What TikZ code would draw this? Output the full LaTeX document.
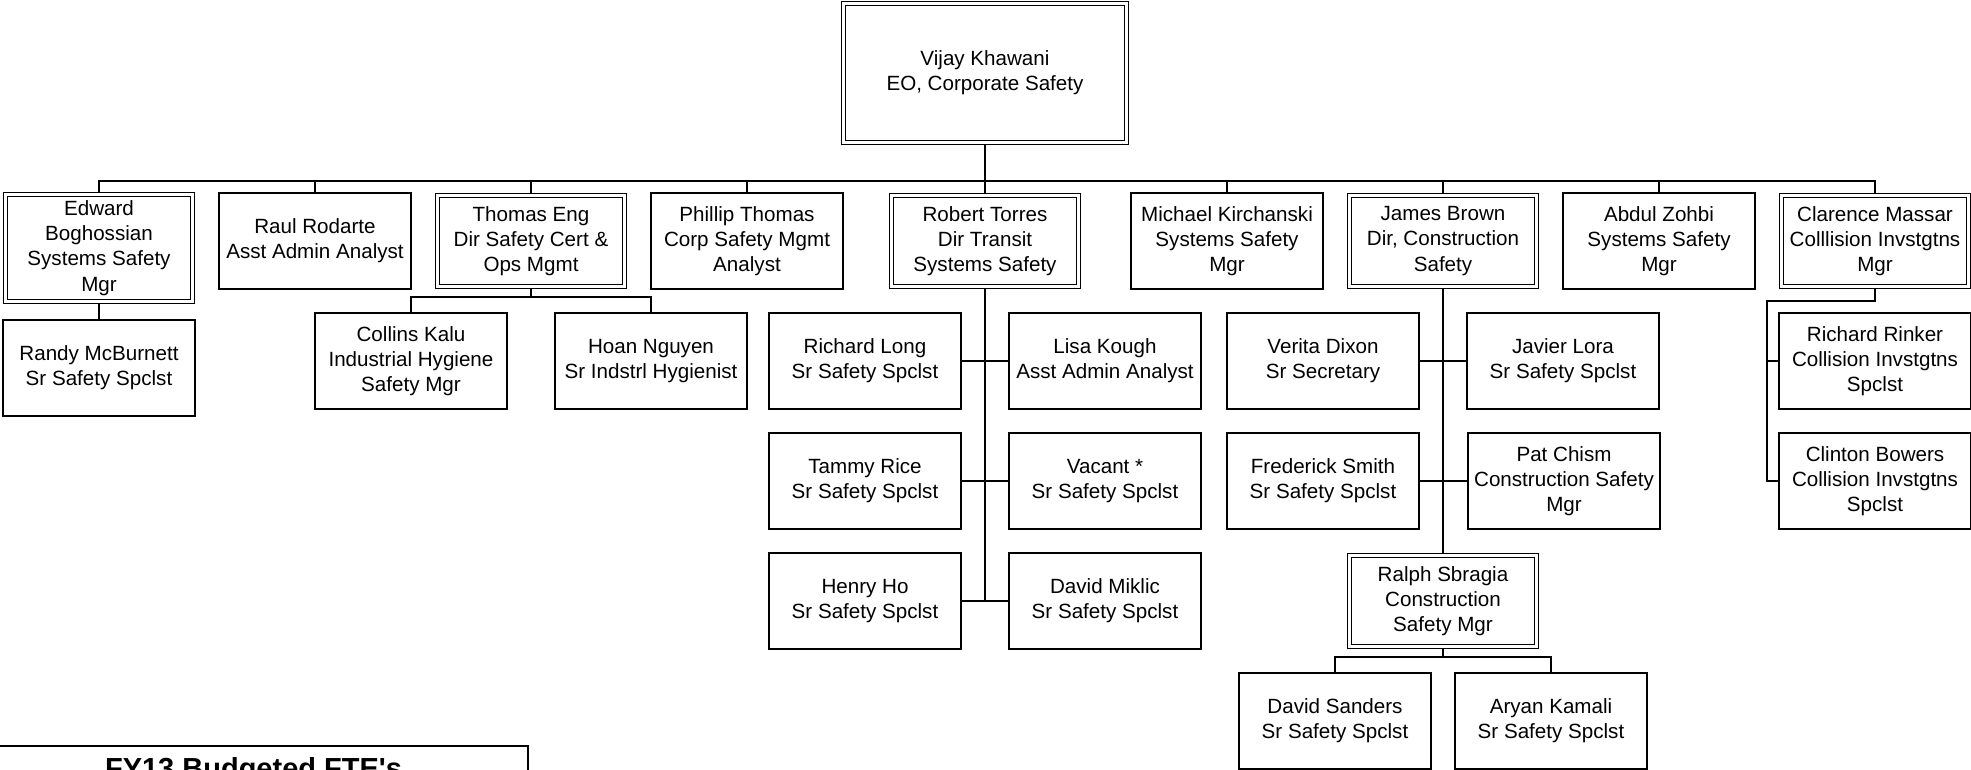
\documentclass[tikz,border=0pt]{standalone}
\usepackage{fontspec}
\setmainfont{Liberation Sans}
\usetikzlibrary{backgrounds}
\newcommand{\bodyfont}{\fontsize{20.6pt}{25.3pt}\selectfont}
\tikzset{
  pbox/.style={draw, line width=1.5pt, minimum width=192pt, minimum height=96pt,
    inner sep=0pt, outer sep=0pt, align=center, font=\bodyfont},
  dbox/.style={pbox, double, double distance=2.4pt, line width=1.3pt,
    minimum width=187pt, minimum height=91pt},
  conn/.style={draw, line width=2pt},
  ftebox/.style={draw, line width=2.3pt, inner sep=0pt, outer sep=0pt,
    minimum width=549pt, text height=32pt, text depth=10pt,
    font=\fontsize{29pt}{34pt}\selectfont\bfseries, anchor=north}
}
\begin{document}
\begin{tikzpicture}[x=1pt,y=-1pt]
\clip (0,0) rectangle (1971,770);

% top
\node[dbox, minimum width=283pt, minimum height=139pt] (vijay) at (985,73) {Vijay Khawani\\EO, Corporate Safety};

% level 1
\node[dbox, minimum height=107pt] (edward) at (99,248) {Edward\\Boghossian\\Systems Safety\\Mgr};
\node[pbox] (raul) at (315,241) {Raul Rodarte\\Asst Admin Analyst};
\node[dbox] (thomas) at (531,241) {Thomas Eng\\Dir Safety Cert \&\\Ops Mgmt};
\node[pbox] (phillip) at (747,241) {Phillip Thomas\\Corp Safety Mgmt\\Analyst};
\node[dbox] (robert) at (985,241) {Robert Torres\\Dir Transit\\Systems Safety};
\node[pbox] (michael) at (1227,241) {Michael Kirchanski\\Systems Safety\\Mgr};
\node[dbox] (james) at (1443,241) {James Brown\\Dir, Construction\\Safety};
\node[pbox] (abdul) at (1659,241) {Abdul Zohbi\\Systems Safety\\Mgr};
\node[dbox] (clarence) at (1875,241) {Clarence Massar\\Colllision Invstgtns\\Mgr};

% level 2
\node[pbox] (randy) at (99,368) {Randy McBurnett\\Sr Safety Spclst};
\node[pbox] (collins) at (411,361) {Collins Kalu\\Industrial Hygiene\\Safety Mgr};
\node[pbox] (hoan) at (651,361) {Hoan Nguyen\\Sr Indstrl Hygienist};

\node[pbox] (rlong) at (865,361) {Richard Long\\Sr Safety Spclst};
\node[pbox] (lisa) at (1105,361) {Lisa Kough\\Asst Admin Analyst};
\node[pbox] (tammy) at (865,481) {Tammy Rice\\Sr Safety Spclst};
\node[pbox] (vacant) at (1105,481) {Vacant *\\Sr Safety Spclst};
\node[pbox] (henry) at (865,601) {Henry Ho\\Sr Safety Spclst};
\node[pbox] (miklic) at (1105,601) {David Miklic\\Sr Safety Spclst};

\node[pbox] (verita) at (1323,361) {Verita Dixon\\Sr Secretary};
\node[pbox] (javier) at (1563,361) {Javier Lora\\Sr Safety Spclst};
\node[pbox] (fred) at (1323,481) {Frederick Smith\\Sr Safety Spclst};
\node[pbox] (pat) at (1564,481) {Pat Chism\\Construction Safety\\Mgr};
\node[dbox] (ralph) at (1443,601) {Ralph Sbragia\\Construction\\Safety Mgr};
\node[pbox] (sanders) at (1335,721) {David Sanders\\Sr Safety Spclst};
\node[pbox] (aryan) at (1551,721) {Aryan Kamali\\Sr Safety Spclst};

\node[pbox] (rinker) at (1875,361) {Richard Rinker\\Collision Invstgtns\\Spclst};
\node[pbox] (clinton) at (1875,481) {Clinton Bowers\\Collision Invstgtns\\Spclst};

% FTE box
\node[ftebox] (fte) at (253.5,746) {FY13 Budgeted FTE\textquotesingle s};

% connectors
\coordinate (bus) at (0,181);
\coordinate (tbus) at (0,297);
\coordinate (rbus) at (0,657);
\coordinate (cbl) at (1767,301);
\begin{pgfonlayer}{background}
\draw[conn] (vijay.south) -- (vijay.south |- bus);
\draw[conn] (edward.north) -- (edward.north |- bus) -- (clarence.north |- bus) -- (clarence.north);
\foreach \n in {raul,thomas,phillip,robert,michael,james,abdul}
  \draw[conn] (\n.north) -- (\n.north |- bus);
\draw[conn] (edward.south) -- (randy.north);
\draw[conn] (thomas.south) -- (thomas.south |- tbus);
\draw[conn] (collins.north) -- (collins.north |- tbus) -- (hoan.north |- tbus) -- (hoan.north);
\draw[conn] (robert.south) -- (robert.south |- henry.east);
\draw[conn] (rlong.east) -- (lisa.west);
\draw[conn] (tammy.east) -- (vacant.west);
\draw[conn] (henry.east) -- (miklic.west);
\draw[conn] (james.south) -- (ralph.north);
\draw[conn] (verita.east) -- (javier.west);
\draw[conn] (fred.east) -- (pat.west);
\draw[conn] (ralph.south) -- (ralph.south |- rbus);
\draw[conn] (sanders.north) -- (sanders.north |- rbus) -- (aryan.north |- rbus) -- (aryan.north);
\draw[conn] (clarence.south) -- (clarence.south |- cbl) -- (cbl) |- (clinton.west);
\draw[conn] (cbl |- rinker.west) -- (rinker.west);
\end{pgfonlayer}
\end{tikzpicture}
\end{document}
